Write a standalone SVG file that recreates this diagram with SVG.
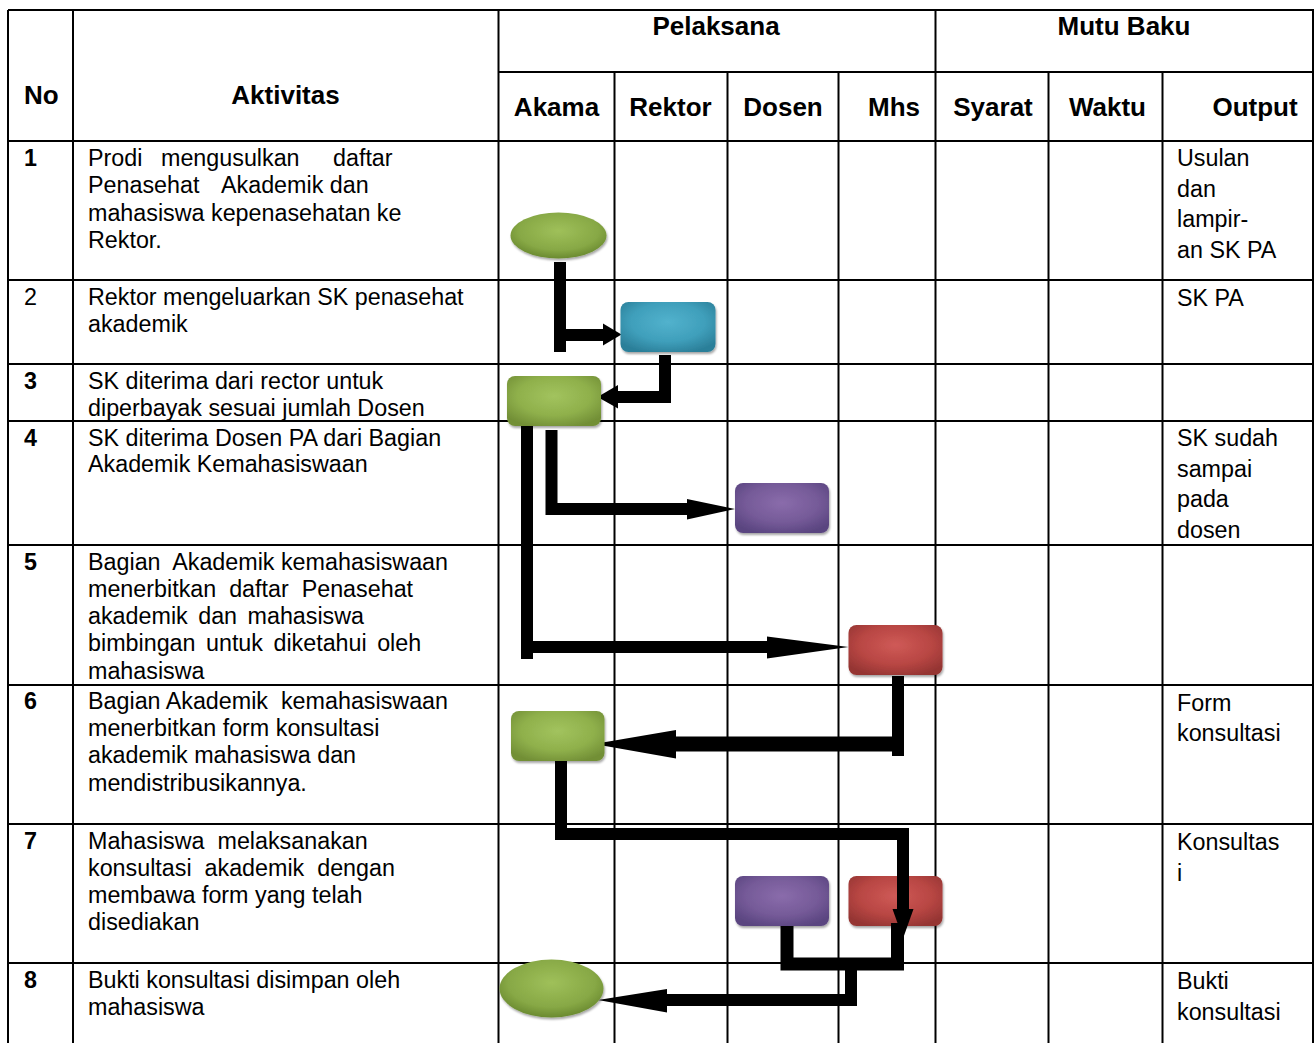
<svg xmlns="http://www.w3.org/2000/svg" width="1316" height="1043" viewBox="0 0 1316 1043">
<style>
  .grid { stroke:#000; stroke-width:2; fill:none; }
  .hd { font-family:"Liberation Sans", Arial, sans-serif; font-weight:bold; font-size:26px; fill:#000; }
  .num { font-family:"Liberation Sans", Arial, sans-serif; font-weight:bold; font-size:23.3px; fill:#000; }
  .numr { font-family:"Liberation Sans", Arial, sans-serif; font-size:23.3px; fill:#000; }
  .tx { font-family:"Liberation Sans", Arial, sans-serif; font-size:23.3px; fill:#000; white-space:pre; }
  .ln { stroke:#000; fill:none; stroke-width:12; stroke-linejoin:miter; stroke-linecap:butt; }
  .ah { fill:#000; stroke:none; }
</style>
<defs>
  <radialGradient id="gGreen" cx="50%" cy="40%" r="65%">
    <stop offset="0" stop-color="#a2c35e"/>
    <stop offset="0.6" stop-color="#8fb04b"/>
    <stop offset="1" stop-color="#728f36"/>
  </radialGradient>
  <radialGradient id="gBlue" cx="50%" cy="40%" r="65%">
    <stop offset="0" stop-color="#52b2cd"/>
    <stop offset="0.6" stop-color="#3f9fbb"/>
    <stop offset="1" stop-color="#2b7f99"/>
  </radialGradient>
  <radialGradient id="gPurple" cx="50%" cy="40%" r="65%">
    <stop offset="0" stop-color="#8a6cab"/>
    <stop offset="0.6" stop-color="#755a98"/>
    <stop offset="1" stop-color="#5a4580"/>
  </radialGradient>
  <radialGradient id="gRed" cx="50%" cy="40%" r="65%">
    <stop offset="0" stop-color="#cf5a57"/>
    <stop offset="0.6" stop-color="#b84643"/>
    <stop offset="1" stop-color="#953533"/>
  </radialGradient>
  <radialGradient id="gOval" cx="50%" cy="40%" r="60%">
    <stop offset="0" stop-color="#9fc05a"/>
    <stop offset="0.7" stop-color="#87a845"/>
    <stop offset="1" stop-color="#6a8a30"/>
  </radialGradient>
  <filter id="sh" x="-10%" y="-10%" width="130%" height="140%">
    <feDropShadow dx="1" dy="2" stdDeviation="1.2" flood-color="#000" flood-opacity="0.35"/>
  </filter>
</defs>
<rect width="1316" height="1043" fill="#fff"/>

<g id="table">
  <path class="grid" d="M8,10 H1314 M498.5,72 H1314 M8,141 H1314 M8,280 H1314 M8,364 H1314 M8,421 H1314 M8,545 H1314 M8,685 H1314 M8,824 H1314 M8,963 H1314"/>
  <path class="grid" d="M8,10 V1043 M73,10 V1043 M498.5,10 V1043 M935.5,10 V1043 M1313,10 V1043 M614.5,72 V1043 M727.5,72 V1043 M838.5,72 V1043 M1048.5,72 V1043 M1162.5,72 V1043"/>
</g>

<g id="header">
  <text class="hd" x="716" y="35" text-anchor="middle">Pelaksana</text>
  <text class="hd" x="1124" y="35" text-anchor="middle">Mutu Baku</text>
  <text class="hd" x="24" y="104">No</text>
  <text class="hd" x="285.5" y="104" text-anchor="middle">Aktivitas</text>
  <text class="hd" x="556.5" y="116" text-anchor="middle">Akama</text>
  <text class="hd" x="670.5" y="116" text-anchor="middle">Rektor</text>
  <text class="hd" x="783" y="116" text-anchor="middle">Dosen</text>
  <text class="hd" x="894" y="116" text-anchor="middle">Mhs</text>
  <text class="hd" x="993" y="116" text-anchor="middle">Syarat</text>
  <text class="hd" x="1107.5" y="116" text-anchor="middle">Waktu</text>
  <text class="hd" x="1255" y="116" text-anchor="middle">Output</text>
</g>

<g id="row1">
  <text class="num" x="24" y="166">1</text>
  <text class="tx" y="166"><tspan x="88">Prodi</tspan><tspan x="161">mengusulkan</tspan><tspan x="333">daftar</tspan></text>
  <text class="tx" y="193.3"><tspan x="88">Penasehat</tspan><tspan x="221">Akademik dan</tspan></text>
  <text class="tx" x="88" y="220.7">mahasiswa kepenasehatan ke</text>
  <text class="tx" x="88" y="248.3">Rektor.</text>
  <text class="tx" x="1177" y="166">Usulan</text>
  <text class="tx" x="1177" y="196.5">dan</text>
  <text class="tx" x="1177" y="227">lampir-</text>
  <text class="tx" x="1177" y="257.5">an SK PA</text>
</g>

<g id="row2">
  <text class="numr" x="24" y="304.5">2</text>
  <text class="tx" x="88" y="304.5">Rektor mengeluarkan SK penasehat</text>
  <text class="tx" x="88" y="332.3">akademik</text>
  <text class="tx" x="1177" y="306">SK PA</text>
</g>

<g id="row3">
  <text class="num" x="24" y="389">3</text>
  <text class="tx" x="88" y="389">SK diterima dari rector untuk</text>
  <text class="tx" x="88" y="415.7">diperbayak sesuai jumlah Dosen</text>
</g>

<g id="row4">
  <text class="num" x="24" y="445.7">4</text>
  <text class="tx" x="88" y="445.7">SK diterima Dosen PA dari Bagian</text>
  <text class="tx" x="88" y="472.3">Akademik Kemahasiswaan</text>
  <text class="tx" x="1177" y="446">SK sudah</text>
  <text class="tx" x="1177" y="476.5">sampai</text>
  <text class="tx" x="1177" y="507">pada</text>
  <text class="tx" x="1177" y="537.5">dosen</text>
</g>

<g id="row5">
  <text class="num" x="24" y="569.5">5</text>
  <text class="tx" x="88" y="569.5">Bagian  Akademik kemahasiswaan</text>
  <text class="tx" x="88" y="596.8">menerbitkan  daftar  Penasehat</text>
  <text class="tx" x="88" y="624.1" word-spacing="4">akademik dan mahasiswa</text>
  <text class="tx" x="88" y="651.4" word-spacing="4">bimbingan untuk diketahui oleh</text>
  <text class="tx" x="88" y="678.7">mahasiswa</text>
</g>

<g id="row6">
  <text class="num" x="24" y="709.3">6</text>
  <text class="tx" x="88" y="709.3">Bagian Akademik  kemahasiswaan</text>
  <text class="tx" x="88" y="736.3">menerbitkan form konsultasi</text>
  <text class="tx" x="88" y="763.3">akademik mahasiswa dan</text>
  <text class="tx" x="88" y="790.7">mendistribusikannya.</text>
  <text class="tx" x="1177" y="711">Form</text>
  <text class="tx" x="1177" y="741">konsultasi</text>
</g>

<g id="row7">
  <text class="num" x="24" y="849">7</text>
  <text class="tx" x="88" y="849">Mahasiswa  melaksanakan</text>
  <text class="tx" x="88" y="875.7">konsultasi  akademik  dengan</text>
  <text class="tx" x="88" y="902.7">membawa form yang telah</text>
  <text class="tx" x="88" y="930">disediakan</text>
  <text class="tx" x="1177" y="850">Konsultas</text>
  <text class="tx" x="1177" y="880.5">i</text>
</g>

<g id="row8">
  <text class="num" x="24" y="988.3">8</text>
  <text class="tx" x="88" y="988.3">Bukti konsultasi disimpan oleh</text>
  <text class="tx" x="88" y="1014.5">mahasiswa</text>
  <text class="tx" x="1177" y="989">Bukti</text>
  <text class="tx" x="1177" y="1019.5">konsultasi</text>
</g>

<g id="connectors">
  <path class="ln" d="M560,262 V352 M554,335 H604"/>
  <polygon class="ah" points="603,323.5 621.5,334.5 603,345.5"/>

  <path class="ln" d="M665,355 V397 H618"/>
  <polygon class="ah" points="618,385 597.5,397 618,408.5"/>

  <path class="ln" d="M527,421 V659 M521,647 H768"/>
  <polygon class="ah" points="767,636.5 848.5,647 767,658.5"/>

  <path class="ln" d="M551.5,430 V509 H688"/>
  <polygon class="ah" points="687,499 735,509 687,519.5"/>

  <path class="ln" d="M898,676 V756"/>
  <path class="ln" style="stroke-width:15" d="M904,744 H675"/>
  <polygon class="ah" points="676,730 594,744 676,758.5"/>

  <path class="ln" d="M561,756 V834 H903 V910"/>

  <path class="ln" style="stroke-width:13" d="M787,921 V964 H897.5 V923"/>
  <path class="ln" d="M851,964 V1000 H667"/>
  <polygon class="ah" points="667,989 598,1000 667,1012.5"/>
</g>

<g id="n1_start" filter="url(#sh)">
  <ellipse cx="558.5" cy="235.5" rx="48" ry="23" fill="url(#gOval)"/>
</g>
<g id="n2_rektor" filter="url(#sh)">
  <rect x="620.5" y="302" width="95" height="50" rx="8" fill="url(#gBlue)"/>
</g>
<g id="n3_akama" filter="url(#sh)">
  <rect x="507" y="376" width="94" height="50" rx="8" fill="url(#gGreen)"/>
</g>
<g id="n4_dosen" filter="url(#sh)">
  <rect x="735" y="483" width="94" height="50" rx="8" fill="url(#gPurple)"/>
</g>
<g id="n5_mhs" filter="url(#sh)">
  <rect x="848.5" y="625" width="94" height="50" rx="8" fill="url(#gRed)"/>
</g>
<g id="n6_akama" filter="url(#sh)">
  <rect x="511" y="711" width="93.5" height="50" rx="8" fill="url(#gGreen)"/>
</g>
<g id="n7_dosen" filter="url(#sh)">
  <rect x="735" y="876" width="94" height="50" rx="8" fill="url(#gPurple)"/>
</g>
<g id="n7_mhs" filter="url(#sh)">
  <rect x="848.5" y="876" width="94" height="50" rx="8" fill="url(#gRed)"/>
</g>
<g id="n8_end" filter="url(#sh)">
  <ellipse cx="551.5" cy="988.5" rx="52" ry="29" fill="url(#gOval)"/>
</g>

<g id="connectors-over">
  <path class="ln" d="M903,840 V910"/>
  <polygon class="ah" points="892.5,909 903,938.5 913.5,909"/>
  <path class="ln" style="stroke-width:13" d="M897.5,923 V970"/>
</g>
</svg>
